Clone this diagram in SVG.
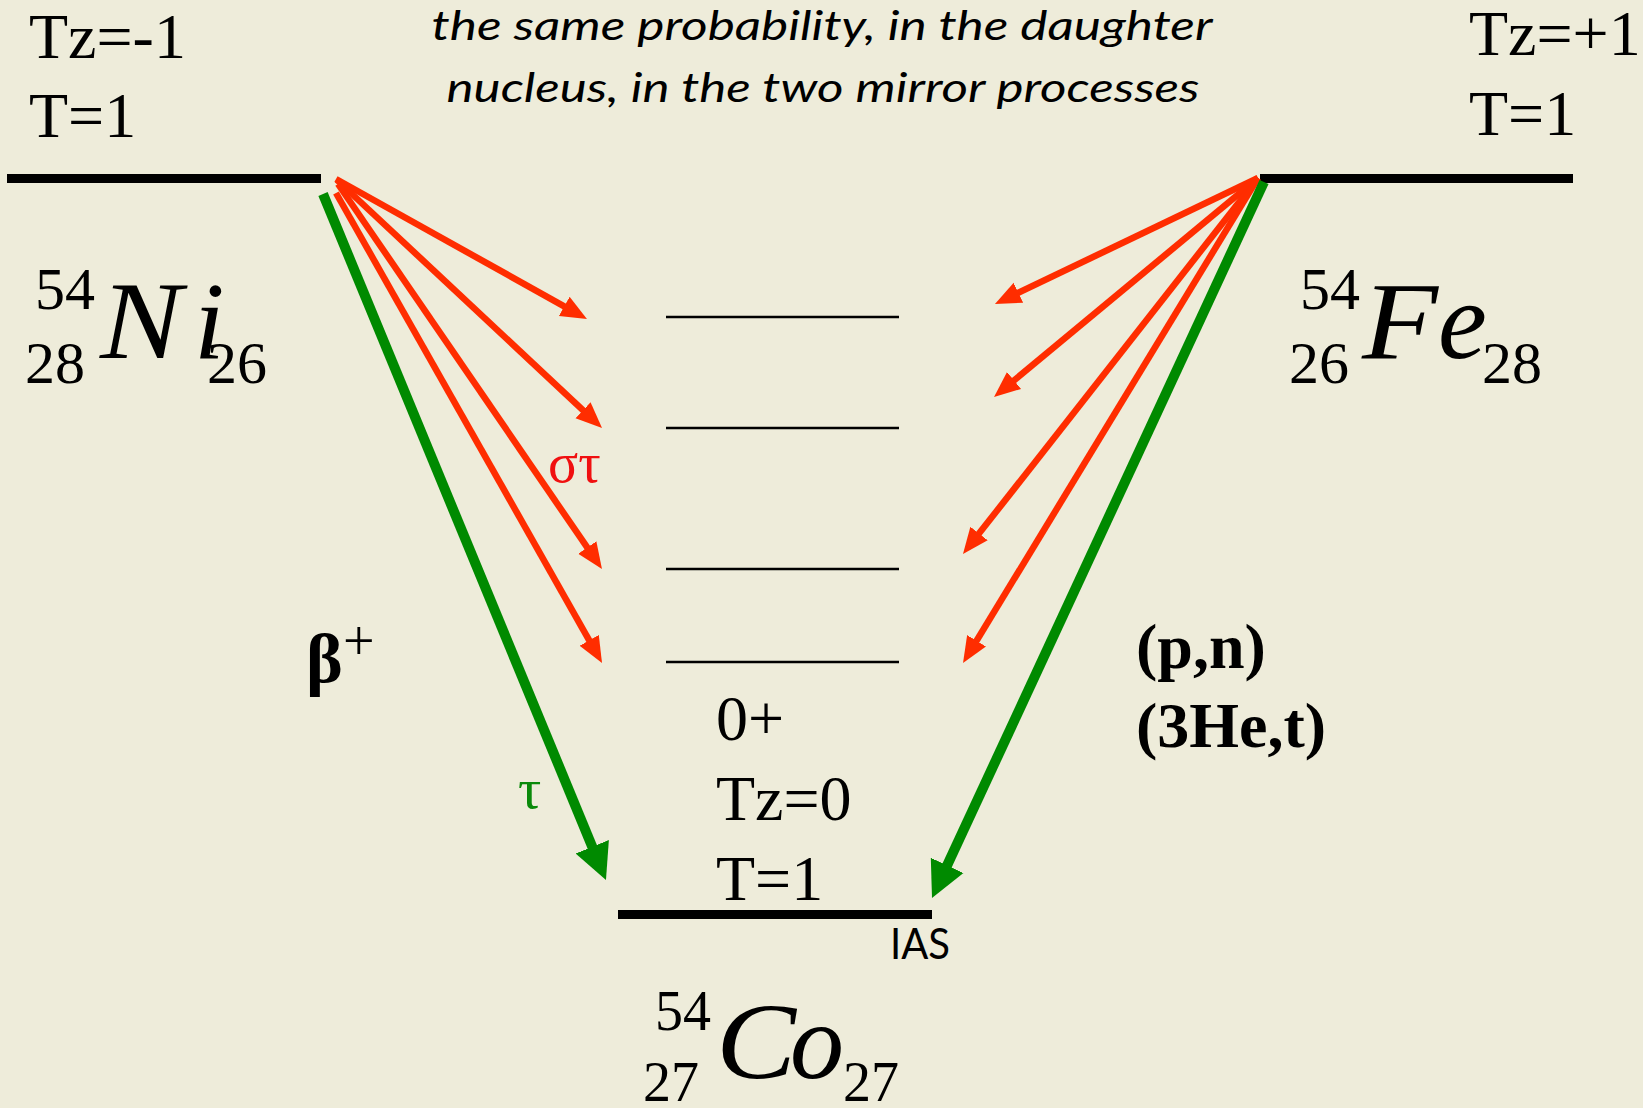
<svg xmlns="http://www.w3.org/2000/svg" width="1643" height="1108" viewBox="0 0 1643 1108">
<style>
.serif{font-family:"Liberation Serif","Times New Roman",Times,serif;fill:#000}
.it{font-style:italic}
.big{font-size:110px}
.num{font-size:60px}
.lbl{font-size:64px}
.bold{font-weight:bold}
.sans{font-family:Lato,"Open Sans","Liberation Sans",sans-serif;fill:#000}
.level{stroke:#000;stroke-width:9}
.thin{stroke:#000;stroke-width:2.5}
.red{stroke:#ff2d00;stroke-width:6.5;fill:none}
.green{stroke:#008a00;stroke-width:10;fill:none}
</style>
<defs>
<marker id="headRed" markerUnits="userSpaceOnUse" viewBox="0 0 28 24" markerWidth="28" markerHeight="24" refX="2" refY="12" orient="auto">
<path d="M0,1 L26,12 L0,23 z" fill="#ff2d00"/>
</marker>
<marker id="headGreen" markerUnits="userSpaceOnUse" viewBox="0 0 40 40" markerWidth="40" markerHeight="40" refX="2" refY="20" orient="auto">
<path d="M0,2 L36,20 L0,38 z" fill="#008a00"/>
</marker>
</defs>
<rect x="0" y="0" width="1643" height="1108" fill="#EEECDA"/>

<g id="caption">
<text class="sans it" x="822" y="40" font-size="40" text-anchor="middle" textLength="781" lengthAdjust="spacingAndGlyphs">the same probability, in the daughter</text>
<text class="sans it" x="823" y="102" font-size="40" text-anchor="middle" textLength="753" lengthAdjust="spacingAndGlyphs">nucleus, in the two mirror processes</text>
</g>

<g id="ni54">
<line class="level" x1="7" y1="178.5" x2="321" y2="178.5"/>
<text class="serif lbl" x="29" y="58">Tz=-1</text>
<text class="serif lbl" x="29" y="137">T=1</text>
<text class="serif num" x="35" y="309">54</text>
<text class="serif num" x="25" y="383">28</text>
<text class="serif it big" x="100" y="358" textLength="82" lengthAdjust="spacingAndGlyphs">N</text>
<text class="serif it big" x="194" y="358">i</text>
<text class="serif num" x="207" y="383">26</text>
</g>

<g id="fe54">
<line class="level" x1="1260" y1="178.5" x2="1573" y2="178.5"/>
<text class="serif lbl" x="1469" y="55">Tz=+1</text>
<text class="serif lbl" x="1469" y="135">T=1</text>
<text class="serif num" x="1300" y="309">54</text>
<text class="serif num" x="1289" y="383">26</text>
<text class="serif it big" x="1362" y="358" textLength="76" lengthAdjust="spacingAndGlyphs">F</text>
<text class="serif it big" x="1438" y="358">e</text>
<text class="serif num" x="1482" y="383">28</text>
</g>

<g id="co54-states">
<line class="thin" x1="666" y1="317" x2="899" y2="317"/>
<line class="thin" x1="666" y1="428" x2="899" y2="428"/>
<line class="thin" x1="666" y1="569" x2="899" y2="569"/>
<line class="thin" x1="666" y1="662" x2="899" y2="662"/>
</g>

<g id="co54-ias">
<line class="level" x1="618" y1="914.5" x2="932" y2="914.5"/>
<text class="serif lbl" x="716" y="740">0+</text>
<text class="serif lbl" x="716" y="820">Tz=0</text>
<text class="serif lbl" x="716" y="900">T=1</text>
<text class="sans" x="890" y="959" font-size="43" textLength="60" lengthAdjust="spacingAndGlyphs">IAS</text>
</g>

<g id="co54">
<text class="serif" x="655" y="1030" font-size="56">54</text>
<text class="serif" x="643" y="1101" font-size="56">27</text>
<text class="serif it" x="716" y="1078" font-size="108" textLength="80" lengthAdjust="spacingAndGlyphs">C</text>
<text class="serif it" x="790" y="1078" font-size="108">o</text>
<text class="serif" x="843" y="1101" font-size="56">27</text>
</g>

<g id="connectors">
<line class="red" x1="336" y1="179" x2="566" y2="307.3" marker-end="url(#headRed)"/>
<line class="red" x1="337" y1="180" x2="584.5" y2="411.6" marker-end="url(#headRed)"/>
<line class="red" x1="338" y1="184" x2="588.4" y2="549.2" marker-end="url(#headRed)"/>
<line class="red" x1="336" y1="193" x2="590.2" y2="642.1" marker-end="url(#headRed)"/>
<line class="red" x1="1258" y1="178" x2="1016.6" y2="293.6" marker-end="url(#headRed)"/>
<line class="red" x1="1258" y1="178" x2="1012.5" y2="381.7" marker-end="url(#headRed)"/>
<line class="red" x1="1258" y1="178" x2="977.8" y2="535.1" marker-end="url(#headRed)"/>
<line class="red" x1="1258" y1="178" x2="975.5" y2="642.5" marker-end="url(#headRed)"/>
<line class="green" x1="323" y1="194" x2="593" y2="848.6" marker-end="url(#headGreen)"/>
<line class="green" x1="1264" y1="182" x2="946.3" y2="867.2" marker-end="url(#headGreen)"/>
</g>

<g id="labels">
<text class="serif" x="548" y="482" font-size="56" style="fill:#f01010">στ</text>
<text class="serif" x="518" y="808" font-size="58" style="fill:#0a8a0a">τ</text>
<text class="serif bold" x="306" y="682" font-size="70">β</text>
<text class="serif" x="343" y="660" font-size="56">+</text>
<text class="serif bold lbl" x="1136" y="668">(p,n)</text>
<text class="serif bold lbl" x="1136" y="747">(3He,t)</text>
</g>
</svg>
